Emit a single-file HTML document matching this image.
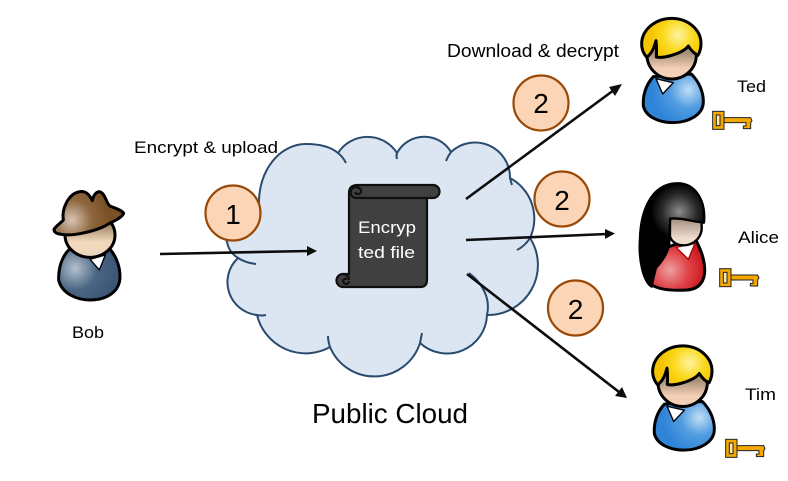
<!DOCTYPE html>
<html>
<head>
<meta charset="utf-8">
<style>
html,body{margin:0;padding:0;background:#fff;width:788px;height:481px;overflow:hidden}
svg{display:block}
text{font-family:"Liberation Sans",sans-serif;fill:#000}
</style>
</head>
<body>
<svg width="788" height="481" viewBox="0 0 788 481" xmlns="http://www.w3.org/2000/svg">
<defs>
<radialGradient id="gold" gradientUnits="userSpaceOnUse" cx="175" cy="105" r="85"><stop offset="0" stop-color="#fdf3a0"/><stop offset=".55" stop-color="#fbd91e"/><stop offset="1" stop-color="#f4c400"/></radialGradient>
<radialGradient id="blue" gradientUnits="userSpaceOnUse" cx="205" cy="270" r="110"><stop offset="0" stop-color="#c2def5"/><stop offset=".5" stop-color="#4f9ce0"/><stop offset="1" stop-color="#2f84d8"/></radialGradient>
<linearGradient id="skin" gradientUnits="userSpaceOnUse" x1="0" y1="160" x2="0" y2="205"><stop offset="0" stop-color="#a89078"/><stop offset="1" stop-color="#f3cfb6"/></linearGradient>
<linearGradient id="skin2" gradientUnits="userSpaceOnUse" x1="0" y1="150" x2="0" y2="205"><stop offset="0" stop-color="#a89484"/><stop offset="1" stop-color="#efdccf"/></linearGradient>
<linearGradient id="skin3" gradientUnits="userSpaceOnUse" x1="0" y1="170" x2="0" y2="215"><stop offset="0" stop-color="#a88f70"/><stop offset="1" stop-color="#f0d8bc"/></linearGradient>
<radialGradient id="black" gradientUnits="userSpaceOnUse" cx="178" cy="125" r="85"><stop offset="0" stop-color="#8c8c8c"/><stop offset=".6" stop-color="#2c2c2c"/><stop offset="1" stop-color="#000"/></radialGradient>
<radialGradient id="red" gradientUnits="userSpaceOnUse" cx="150" cy="300" r="100"><stop offset="0" stop-color="#eea0a0"/><stop offset=".55" stop-color="#e0454a"/><stop offset="1" stop-color="#cc1a20"/></radialGradient>
<radialGradient id="hat" gradientUnits="userSpaceOnUse" cx="125" cy="150" r="110"><stop offset="0" stop-color="#d8c4b2"/><stop offset=".55" stop-color="#8f6840"/><stop offset="1" stop-color="#7a5228"/></radialGradient>
<radialGradient id="coat" gradientUnits="userSpaceOnUse" cx="135" cy="295" r="120"><stop offset="0" stop-color="#b4c0cc"/><stop offset=".55" stop-color="#4a6684"/><stop offset="1" stop-color="#3d5876"/></radialGradient>
<g id="blond">
<path d="M100 230 C76 255 68 290 70 318 C78 352 120 368 158 368 C205 368 250 345 250 305 C250 275 237 245 214 222 Z" fill="url(#blue)" stroke="#000" stroke-width="9" stroke-linejoin="round"/>
<path d="M108 236 L128 282 L160 248 Z" fill="#fff" stroke="#000" stroke-width="4" stroke-linejoin="round"/>
<ellipse cx="155" cy="165" rx="74" ry="72" fill="url(#skin)" stroke="#000" stroke-width="9"/>
<path d="M80 172 C70 160 64 145 65 128 C68 85 110 55 155 55 C205 55 243 90 243 130 C243 143 240 155 234 166 C222 160 212 150 205 138 C195 152 170 162 148 168 C132 172 118 173 109 171 C110 155 110 138 108 122 C103 140 98 158 80 172 Z" fill="url(#gold)" stroke="#000" stroke-width="9" stroke-linejoin="round"/>
</g>
<g id="key">
<rect x="278" y="334" width="34" height="54" fill="#f5a800" stroke="#222" stroke-width="3"/>
<rect x="289" y="345" width="11" height="32" fill="#ffe9a8" stroke="#222" stroke-width="3"/>
<path d="M312 353 H392 L396 362 L392 368 V386 H370 V378 H378 V368 H312 Z" fill="#f5a800" stroke="#222" stroke-width="3" stroke-linejoin="round"/>
</g>
</defs>

<!-- cloud -->
<path d="M259 205 C258 170 280 144 306 144 C320 144 331 147 338 153 A35 35 0 0 1 397 153 A31 31 0 0 1 451 152 A35 35 0 0 1 510 178 A46 46 0 0 1 530 238 A50 50 0 0 1 487 315 A40 40 0 0 1 420 343 A48 48 0 0 1 330 347 A50 50 0 0 1 257 315 A33 33 0 0 1 238 258 A24 24 0 0 1 227 242 A30 30 0 0 1 259 205 Z" fill="#dce6f2" stroke="#2a4a6e" stroke-width="2"/>
<g fill="none" stroke="#2a4a6e" stroke-width="2">
<path d="M338 153 Q343 157 346 163"/>
<path d="M397 153 Q396 156 397 159"/>
<path d="M451 152 Q448 156 446 161"/>
<path d="M510 178 Q511 182 512 185"/>
<path d="M530 238 Q525 246 517 250"/>
<path d="M487 315 C491 297 481 282 469 273"/>
<path d="M420 343 Q421 338 422 333"/>
<path d="M330 347 Q328 341 328 336"/>
<path d="M257 315 Q262 316 266 315"/>
<path d="M238 258 Q246 263 256 264"/>
</g>

<!-- scroll -->
<g stroke="#0f0f0f" stroke-width="2.2" stroke-linejoin="round">
<path d="M349 193 Q349 185 358 185 H433 A6.500 6.500 0 0 1 433 198 H427 V280 Q427 287 420 287 H343 A6.500 6.500 0 0 1 343 274 H349 Z" fill="#404040"/>
<path d="M427 198 H356 A5.500 5.500 0 1 1 361 190 A3 3 0 0 1 355 192" fill="none"/>
<path d="M349 281 A3 3 0 0 1 343 281 A3 3 0 0 1 347 279 M343 274 A6 6 0 0 1 349 280" fill="none"/>
</g>
<text x="358" y="233" font-size="17" textLength="58" lengthAdjust="spacingAndGlyphs" style="fill:#fff">Encryp</text>
<text x="358" y="258" font-size="17" textLength="57" lengthAdjust="spacingAndGlyphs" style="fill:#fff">ted file</text>

<!-- arrows -->
<g stroke="#0d0d0d" stroke-width="2.6" fill="none">
<line x1="160" y1="254" x2="309" y2="251"/>
<line x1="466" y1="199" x2="614" y2="90"/>
<line x1="466" y1="240" x2="607" y2="234"/>
<line x1="467" y1="274" x2="619" y2="392"/>
</g>
<g fill="#0d0d0d">
<path d="M317 251 L307 246 L307 256 Z"/>
<path d="M622 84 L609 87 L615 96 Z"/>
<path d="M615 233.500 L605 229 L605 239 Z"/>
<path d="M627 398 L622 387 L615 396 Z"/>
</g>

<!-- number circles -->
<g fill="#fbd5b5" stroke="#984807" stroke-width="2.2">
<circle cx="233" cy="213" r="27.500"/>
<circle cx="541" cy="103" r="27.500"/>
<circle cx="562" cy="199" r="27.500"/>
<circle cx="575.500" cy="308" r="27.500"/>
</g>
<g font-size="28" text-anchor="middle">
<text x="233" y="224">1</text>
<text x="541" y="113">2</text>
<text x="562" y="210">2</text>
<text x="575.500" y="319">2</text>
</g>

<!-- Ted -->
<g transform="translate(620,0) scale(.33333)"><use href="#blond"/><use href="#key"/></g>
<!-- Tim -->
<g transform="translate(631,327.500) scale(.33333)"><use href="#blond"/></g>
<g transform="translate(633,328) scale(.33333)"><use href="#key"/></g>

<!-- Alice -->
<g transform="translate(620,170) scale(.33333)">
<path d="M130 235 C108 280 100 315 95 345 C125 362 170 362 200 360 C240 358 256 330 254 295 C252 260 240 235 225 205 Z" fill="url(#red)" stroke="#000" stroke-width="9" stroke-linejoin="round"/>
<path d="M168 232 L205 268 L225 220 Z" fill="#fff" stroke="#a00" stroke-width="4"/>
<path d="M150 145 H245 V180 C240 210 215 226 190 226 C170 226 155 215 150 200 Z" fill="url(#skin2)" stroke="#000" stroke-width="7"/>
<path d="M95 350 C70 335 55 270 60 205 C62 130 90 42 170 40 C225 38 258 90 252 158 C220 155 180 142 150 146 L148 215 C148 235 135 262 118 282 C105 298 90 312 96 325 Z" fill="url(#black)" stroke="#000" stroke-width="7" stroke-linejoin="round"/>
<use href="#key" transform="translate(21,-38)"/>
</g>

<!-- Bob -->
<g transform="translate(30,170) scale(.33333)">
<path d="M118 238 C95 260 85 295 86 330 C95 370 140 390 180 390 C230 390 270 365 270 320 C270 285 255 250 232 230 Z" fill="url(#coat)" stroke="#000" stroke-width="9" stroke-linejoin="round"/>
<path d="M180 268 L208 300 L226 255 Z" fill="#fff" stroke="#000" stroke-width="4" stroke-linejoin="round"/>
<ellipse cx="180" cy="195" rx="75" ry="67" fill="url(#skin3)" stroke="#000" stroke-width="9"/>
<path d="M72 178 C80 165 92 160 100 150 C94 118 115 70 150 65 C170 62 180 78 187 92 C190 75 200 62 212 66 C228 75 228 100 240 108 C255 115 275 120 281 130 C275 145 245 155 225 168 C190 185 130 198 100 194 C85 192 72 190 72 178 Z" fill="url(#hat)" stroke="#000" stroke-width="9" stroke-linejoin="round"/>
</g>

<!-- labels -->
<text x="134" y="153" font-size="17" textLength="144" lengthAdjust="spacingAndGlyphs">Encrypt &amp; upload</text>
<text x="447" y="57" font-size="18" textLength="172" lengthAdjust="spacingAndGlyphs">Download &amp; decrypt</text>
<text x="737" y="92" font-size="17" textLength="29" lengthAdjust="spacingAndGlyphs">Ted</text>
<text x="738" y="243" font-size="17" textLength="41" lengthAdjust="spacingAndGlyphs">Alice</text>
<text x="745" y="400" font-size="17" textLength="31" lengthAdjust="spacingAndGlyphs">Tim</text>
<text x="72" y="338" font-size="17" textLength="32" lengthAdjust="spacingAndGlyphs">Bob</text>
<text x="312" y="423" font-size="28" textLength="156" lengthAdjust="spacingAndGlyphs">Public Cloud</text>
</svg>
</body>
</html>
